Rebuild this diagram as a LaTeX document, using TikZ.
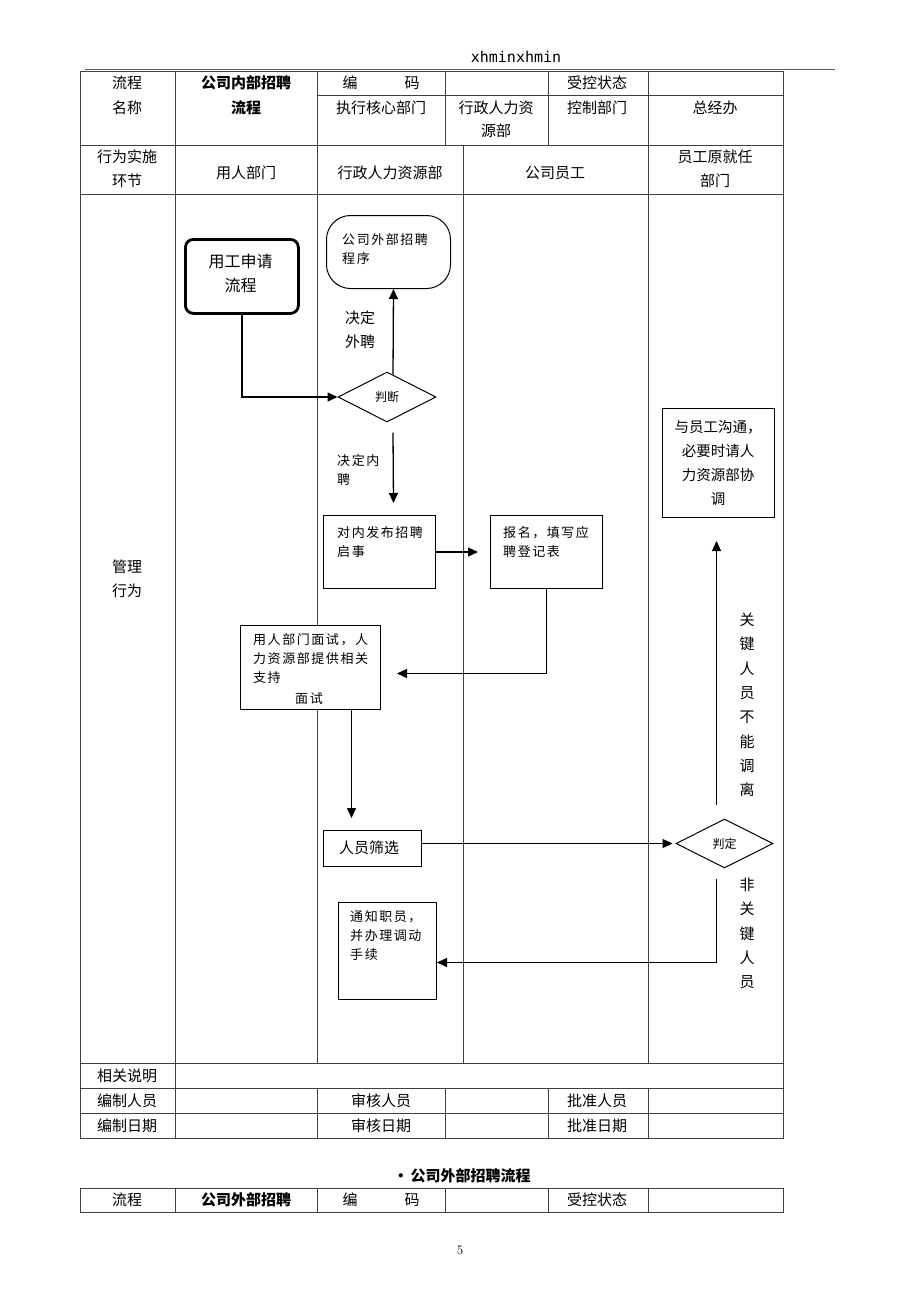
\documentclass[tikz,border=0pt]{standalone}
\usepackage{fontspec}
\newfontfamily\cjk{Noto Sans CJK SC}
\newfontfamily\cjksp[LetterSpace=12]{Noto Sans CJK SC}
\newfontfamily\monof{DejaVu Sans Mono}
\usetikzlibrary{arrows.meta,shapes.geometric,calc}
\begin{document}
\begin{tikzpicture}[x=1pt,y=-1pt,
 tl/.style={draw=black!75,line width=0.9pt},
 t/.style={font=\cjk\fontsize{15}{25}\selectfont,inner sep=0,align=center},
 tb/.style={font=\cjk\bfseries\fontsize{15}{25}\selectfont,inner sep=0,align=center},
 fl/.style={font=\cjksp\fontsize{13}{19}\selectfont,inner sep=0,align=left,anchor=north west},
 box/.style={draw,fill=white,line width=1pt,inner sep=0,anchor=north west},
 dia/.style={draw,fill=white,diamond,aspect=2,line width=1pt,inner sep=0,font=\cjk\fontsize{12}{12}\selectfont},
 arr/.style={line width=1.3pt,-{Triangle[length=10pt,width=9pt]}}]
\useasboundingbox[fill=white] (0,0) rectangle (920,1302);
% header
\node[font=\monof\fontsize{15}{15}\selectfont,inner sep=0] (hdr) at (516,57) {xhminxhmin};
\draw[draw=black!65,line width=1.8pt] (85,69.5) -- (835,69.5);
% main table
\draw[tl] (80,71) rectangle (783,1138);
\draw[tl] (317,95) -- (783,95);
\draw[tl] (80,145) -- (783,145);
\draw[tl] (80,194) -- (783,194);
\draw[tl] (80,1063) -- (783,1063);
\draw[tl] (80,1088) -- (783,1088);
\draw[tl] (80,1113) -- (783,1113);
\draw[tl] (175,71) -- (175,1138);
\draw[tl] (317,71) -- (317,1063) (317,1088) -- (317,1138);
\draw[tl] (445,71) -- (445,145) (445,1088) -- (445,1138);
\draw[tl] (548,71) -- (548,145) (548,1088) -- (548,1138);
\draw[tl] (648,71) -- (648,1063) (648,1088) -- (648,1138);
\draw[tl] (463,145) -- (463,1063);
% table texts
\node[t] (c11) at (127,95.5) {流程\\名称};
\node[tb] (c12) at (246,95.5) {公司内部招聘\\流程};
\node[t] (c13) at (381,83) {编\hspace{47pt}码};
\node[t] (c15) at (597,83) {受控状态};
\node[t] (c23) at (381,108) {执行核心部门};
\node[t,font=\cjk\fontsize{15}{23}\selectfont] (c24) at (496,119.5) {行政人力资\\源部};
\node[t] (c25) at (597,108) {控制部门};
\node[t] (c26) at (715,108) {总经办};
\node[t,font=\cjk\fontsize{15}{24}\selectfont] (r1) at (127,169) {行为实施\\环节};
\node[t] (r2) at (246,173) {用人部门};
\node[t] (r3) at (390,173) {行政人力资源部};
\node[t] (r4) at (555,173) {公司员工};
\node[t,font=\cjk\fontsize{15}{24}\selectfont] (r5) at (715,169) {员工原就任\\部门};
\node[t,font=\cjk\fontsize{15}{24}\selectfont] (mg) at (127,579) {管理\\行为};
\node[t] (b1) at (127,1076) {相关说明};
\node[t] (b2) at (127,1101) {编制人员};
\node[t] (b3) at (381,1101) {审核人员};
\node[t] (b4) at (597,1101) {批准人员};
\node[t] (b5) at (127,1126) {编制日期};
\node[t] (b6) at (381,1126) {审核日期};
\node[t] (b7) at (597,1126) {批准日期};
% second title and table
\node[tb] (title2) at (462,1176) {•\,公司外部招聘流程};
\draw[tl] (80,1188) rectangle (783,1212);
\draw[tl] (175,1188) -- (175,1212) (317,1188) -- (317,1212) (445,1188) -- (445,1212) (548,1188) -- (548,1212) (648,1188) -- (648,1212);
\node[t] (d1) at (127,1200) {流程};
\node[tb] (d2) at (246,1200) {公司外部招聘};
\node[t] (d3) at (381,1200) {编\hspace{47pt}码};
\node[t] (d4) at (597,1200) {受控状态};
\node[font=\fontsize{13}{13}\selectfont,inner sep=0] (pg) at (460,1250) {5};
% flow nodes
\node[box,line width=2.8pt,rounded corners=8pt,minimum width=113,minimum height=74] (req) at (184,238) {};
\node[t,font=\cjk\fontsize{16}{24}\selectfont] (reqt) at (240.5,273) {用工申请\\流程};
\node[box,rounded corners=24pt,minimum width=124,minimum height=73] (ext) at (326,215) {};
\node[fl] (extt) at (342,233) {公司外部招聘\\程序};
\node[dia,minimum width=98,minimum height=50] (judge) at (387,397) {判断};
\node[t,font=\cjk\fontsize{15}{24}\selectfont] (l1) at (360,330) {决定\\外聘};
\node[fl] (l2) at (337,454) {决定内\\聘};
\node[box,minimum width=112,minimum height=73] (pub) at (323,515) {};
\node[fl] (pubt) at (337,526) {对内发布招聘\\启事};
\node[box,minimum width=112,minimum height=73] (sign) at (490,515) {};
\node[fl] (signt) at (503,526) {报名，填写应\\聘登记表};
\node[box,minimum width=140,minimum height=84] (intv) at (240,625) {};
\node[fl] (intvt) at (253,633) {用人部门面试，人\\力资源部提供相关\\支持\\[2pt]\hspace*{42pt}面试};
\node[box,minimum width=98,minimum height=36] (scr) at (323,830) {};
\node[t] (scrt) at (369,848) {人员筛选};
\node[dia,minimum width=97,minimum height=49] (judge2) at (724.5,843.5) {判定};
\node[box,minimum width=112,minimum height=109] (coord) at (662,408) {};
\node[t,font=\cjk\fontsize{14.5}{24}\selectfont] (coordt) at (718,463) {与员工沟通，\\必要时请人\\力资源部协\\调};
\node[t,font=\cjk\fontsize{15}{24.3}\selectfont] (l3) at (747,705) {关\\键\\人\\员\\不\\能\\调\\离};
\node[t,font=\cjk\fontsize{15}{24.3}\selectfont] (l4) at (747,933.5) {非\\关\\键\\人\\员};
\node[box,minimum width=98,minimum height=97] (notice) at (338,902) {};
\node[fl] (noticet) at (350,910) {通知职员，\\并办理调动\\手续};
% connectors
\draw[arr] (req.south) |- (judge.west);
\draw[arr] ($(judge.north)+(6,3)$) -- ($(ext.south)+(5,0)$);
\draw[arr] ($(judge.south)+(6,10)$) -- ($(pub.north)+(14,-12)$);
\draw[arr] (pub.east) -- ($(sign.west)+(-12,0)$);
\draw[arr] (sign.south) |- ($(intv.east)+(16,6)$);
\draw[arr] ($(intv.south)+(41,0)$) -- ($(scr.north)+(-21,-12)$);
\draw[arr] ($(scr.east)+(0,-5)$) -- ($(judge2.west)+(-3,0)$);
\draw[arr] ($(judge2.north)+(-8,-14)$) -- ($(coord.south)+(-2,23)$);
\draw[arr] ($(judge2.south)+(-8,10)$) |- ($(notice.east)+(0,11.5)$);
\end{tikzpicture}
\end{document}
